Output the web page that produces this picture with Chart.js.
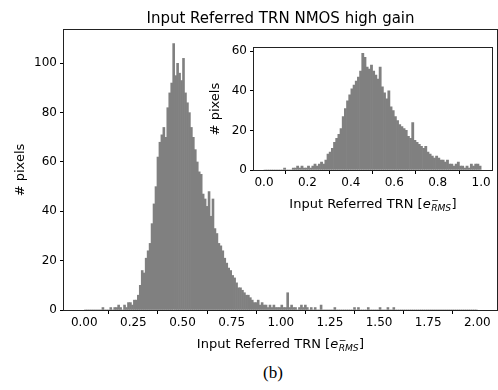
<!DOCTYPE html>
<html>
<head>
<meta charset="utf-8">
<script src="https://cdn.jsdelivr.net/npm/chart.js@4.4.0/dist/chart.umd.min.js"></script>
<style>
  body { margin: 0; background: #fff; }
  #page { position: relative; width: 498px; height: 390px; overflow: hidden; }
  #mainBox { position: absolute; left: 0; top: 0; width: 498px; height: 360px; }
  #insetBox { position: absolute; left: 205px; top: 38px; width: 290px; height: 180px; }
  #caption { position: absolute; left: 223px; width: 100px; top: 363px; text-align: center;
             font: 17px "Liberation Serif"; color: #000; }
</style>
</head>
<body>
<div id="page">
  <div id="mainBox"><canvas id="main"></canvas></div>
  <div id="insetBox"><canvas id="inset"></canvas></div>
  <div id="caption">(b)</div>
</div>
<script>
// histogram of the full range, bins of 0.01 starting at 0
const mainBinStart = 0;
const mainBinWidth = 0.01;
const mainCounts = [
  0, 0, 0, 0, 0, 0, 0, 0, 0, 1,
  0, 0, 0, 1, 0, 1, 1, 2, 1, 0,
  2, 1, 3, 3, 2, 4, 4, 6, 10, 16,
  15, 21, 24, 27, 35, 43, 50, 62, 68, 71,
  74, 70, 82, 88, 92, 108, 95, 100, 96, 93,
  102, 88, 84, 80, 74, 70, 65, 60, 56, 55,
  47, 45, 42, 48, 38, 45, 33, 31, 27, 26,
  24, 21, 19, 17, 16, 14, 13, 11, 9, 9,
  8, 7, 6, 6, 5, 4, 3, 3, 4, 2,
  3, 2, 2, 1, 2, 1, 2, 1, 1, 1,
  2, 1, 1, 7, 1, 2, 1, 1, 0, 1,
  2, 1, 2, 1, 0, 1, 0, 1, 0, 0,
  2, 0, 0, 0, 0, 0, 0, 1, 0, 0,
  0, 0, 0, 0, 0, 0, 0, 1, 0, 1,
  0, 0, 0, 0, 1, 0, 0, 0, 0, 0,
  1, 0, 0, 0, 1, 0, 0, 1, 0, 0,
  0, 0, 0, 0, 0, 0, 0, 0, 0, 0,
  0, 0, 0, 0, 0, 0, 0, 0, 0, 0,
  0, 0, 0, 0, 0, 0, 0, 0, 0, 0,
  0, 0, 0, 0, 0, 0, 0, 0, 0, 0
];

// inset: 0..1 only
const insetBinStart = 0;
const insetBinWidth = 0.01;
const insetCounts = [
  0, 0, 0, 0, 0, 0, 0, 0, 0, 1,
  0, 0, 0, 1, 1, 2, 1, 2, 1, 1,
  2, 1, 2, 3, 2, 3, 4, 3, 5, 8,
  9, 11, 14, 16, 18, 21, 27, 31, 35, 38,
  41, 43, 45, 47, 50, 59, 57, 52, 51, 53,
  50, 48, 46, 52, 42, 39, 36, 40, 32, 30,
  27, 25, 23, 22, 21, 20, 17, 16, 24, 15,
  14, 13, 12, 11, 12, 9, 8, 7, 6, 7,
  6, 5, 5, 4, 5, 3, 3, 2, 3, 4,
  2, 2, 1, 2, 1, 3, 2, 3, 3, 2
];

const mainXTicks = [0, 0.25, 0.5, 0.75, 1, 1.25, 1.5, 1.75, 2];
const mainYTicks = [0, 20, 40, 60, 80, 100];
const insetXTicks = [0, 0.2, 0.4, 0.6, 0.8, 1];
const insetYTicks = [0, 20, 40, 60];

const chartTitle = "Input Referred TRN NMOS high gain";
const yLabel = "# pixels";

const FONT = '"DejaVu Sans"';
const barColor = "#808080";

function toPoints(start, width, counts) {
  return counts.map((c, i) => ({ x: start + (i + 0.5) * width, y: c }));
}

// frame around plot area, the title, and the x label with e^-_RMS
const decoPlugin = {
  id: "deco",
  beforeDatasetsDraw(chart) {
    const { ctx, chartArea: a } = chart;
    ctx.save();
    ctx.fillStyle = "#fff";
    ctx.fillRect(a.left, a.top, a.right - a.left, a.bottom - a.top);
    ctx.restore();
  },
  afterDraw(chart, args, opts) {
    const { ctx, chartArea: a } = chart;
    ctx.save();
    ctx.strokeStyle = "#222";
    ctx.lineWidth = 1;
    const l = Math.round(a.left) - 0.5, t = Math.round(a.top) - 0.5;
    const r = Math.round(a.right) + 0.5, b = Math.round(a.bottom) + 0.5;
    ctx.strokeRect(l, t, r - l, b - t);

    const cx = (a.left + a.right) / 2;
    ctx.fillStyle = "#000";
    ctx.textBaseline = "alphabetic";

    if (opts.title) {
      ctx.font = opts.titleSize + "px " + FONT;
      ctx.textAlign = "center";
      ctx.fillText(opts.title, cx, opts.titleY);
    }

    // Input Referred TRN [e^-_RMS]
    const s = opts.labelSize;
    const fReg = s + "px " + FONT;
    const fIt = "italic " + s + "px " + FONT;
    const fSmall = (s * 0.7) + "px " + FONT;
    const fSmallIt = "italic " + (s * 0.7) + "px " + FONT;
    const pre = "Input Referred TRN [";
    ctx.font = fReg; const wPre = ctx.measureText(pre).width; const wEnd = ctx.measureText("]").width;
    ctx.font = fIt; const wE = ctx.measureText("e").width;
    ctx.font = fSmallIt; const wSub = ctx.measureText("RMS").width;
    ctx.font = fSmall; const wSup = ctx.measureText("\u2212").width;
    const wScript = Math.max(wSub, wSup) + 1;
    const total = wPre + wE + wScript + wEnd;
    let x = cx - total / 2;
    const y = opts.labelY;
    ctx.textAlign = "left";
    ctx.font = fReg; ctx.fillText(pre, x, y); x += wPre;
    ctx.font = fIt; ctx.fillText("e", x, y); x += wE;
    ctx.font = fSmall; ctx.fillText("\u2212", x + 0.5, y - s * 0.42);
    ctx.font = fSmallIt; ctx.fillText("RMS", x + 0.5, y + s * 0.25); x += wScript;
    ctx.font = fReg; ctx.fillText("]", x, y);
    ctx.restore();
  }
};

function makeChart(id, cfg) {
  return new Chart(document.getElementById(id), {
    type: "bar",
    data: {
      datasets: [{
        data: toPoints(cfg.start, cfg.width, cfg.counts),
        backgroundColor: barColor,
        borderWidth: 0,
        barPercentage: 1,
        categoryPercentage: 1,
        grouped: false
      }]
    },
    options: {
      responsive: true,
      maintainAspectRatio: false,
      animation: false,
      events: [],
      layout: { padding: cfg.padding },
      plugins: {
        legend: { display: false },
        tooltip: { enabled: false },
        deco: cfg.deco
      },
      scales: {
        x: {
          type: "linear",
          min: cfg.xMin,
          max: cfg.xMax,
          offset: false,
          afterBuildTicks: s => { s.ticks = cfg.xTicks.map(v => ({ value: v })); },
          afterFit: s => { s.height = cfg.xHeight; },
          grid: { drawOnChartArea: false, tickLength: 4, tickColor: "#000", tickWidth: 1 },
          border: { display: false },
          ticks: {
            font: { family: FONT, size: 12 },
            color: "#000",
            padding: 2,
            autoSkip: false,
            maxRotation: 0,
            callback: v => v.toFixed(cfg.xDigits)
          }
        },
        y: {
          min: 0,
          max: cfg.yMax,
          afterBuildTicks: s => { s.ticks = cfg.yTicks.map(v => ({ value: v })); },
          afterFit: s => { s.width = cfg.yWidth; },
          grid: { drawOnChartArea: false, tickLength: 4, tickColor: "#000", tickWidth: 1 },
          border: { display: false },
          title: {
            display: true,
            text: yLabel,
            color: "#000",
            font: { family: FONT, size: 13 },
            padding: { top: cfg.yTitlePad, bottom: 0 }
          },
          ticks: {
            font: { family: FONT, size: 12 },
            color: "#000",
            padding: 3,
            autoSkip: false
          }
        }
      }
    },
    plugins: [decoPlugin]
  });
}

makeChart("main", {
  start: mainBinStart, width: mainBinWidth, counts: mainCounts,
  xMin: -0.103, xMax: 2.1, yMax: 113.5,
  xTicks: mainXTicks, yTicks: mainYTicks, xDigits: 2,
  xHeight: 50, yWidth: 64, yTitlePad: 13,
  padding: { top: 30, right: 1, left: 0, bottom: 0 },
  deco: { title: chartTitle, titleSize: 15, titleY: 23, labelSize: 13, labelY: 348 }
});

makeChart("inset", {
  start: insetBinStart, width: insetBinWidth, counts: insetCounts,
  xMin: -0.046, xMax: 1.05, yMax: 61.6,
  xTicks: insetXTicks, yTicks: insetYTicks, xDigits: 1,
  xHeight: 48, yWidth: 49, yTitlePad: 3,
  padding: { top: 7, right: 3, left: 0, bottom: 0 },
  deco: { title: "", labelSize: 13, labelY: 170 }
});
</script>
</body>
</html>
